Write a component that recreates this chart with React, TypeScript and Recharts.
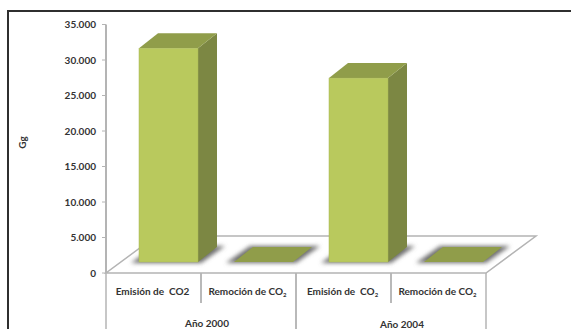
import { Bar, ComposedChart, XAxis, YAxis } from "recharts";

const categories = ["Emisión de  CO2", "Remoción de CO₂", "Emisión de  CO₂", "Remoción de CO₂"];
const years = ["Año 2000", "Año 2000", "Año 2004", "Año 2004"];
const emissions = [30100, 0, 25900, 0];
const yTicks = [0, 5000, 10000, 15000, 20000, 25000, 30000, 35000];

const chartData = categories.map((name, i) => ({ id: i, name, year: years[i], value: emissions[i] }));

const textColor = "#333333";
const axisColor = "#b4b4b4";
const fontFamily = "Lato, sans-serif";

// fake 3D: how far the floor recedes, and where the columns stand on it
const floorDx = 50;
const floorDy = 37;
const boxDx = 19;
const boxDy = 15;
const standX = 15;
const standY = 11;

const plotLeft = 106;
const plotRight = 486;
const plotBottom = 273;

function Box3D(props: any) {
  const { x, y, width, height } = props;
  const left = x + standX;
  const right = left + width;
  const top = y - standY;
  const bottom = y + height - standY;
  const baseShadow = `${left - 8},${bottom + 1} ${right + 3},${bottom + 1} ${right + boxDx + 8},${bottom - boxDy - 1} ${left + boxDx - 3},${bottom - boxDy - 1}`;
  return (
    <g>
      <polygon points={baseShadow} fill="#6f6f6f" filter="url(#boxShadow)" />
      <polygon points={`${right},${top} ${right + boxDx},${top - boxDy} ${right + boxDx},${bottom - boxDy} ${right},${bottom}`} fill="#7c8743" />
      <polygon points={`${left},${top} ${left + boxDx},${top - boxDy} ${right + boxDx},${top - boxDy} ${right},${top}`} fill="#909d4a" />
      {height > 0 && <rect x={left} y={top} width={width} height={height} fill="#b9c95d" stroke="#a9b955" strokeWidth={0.5} />}
    </g>
  );
}

function CategoryTick(props: any) {
  const { x, y, payload } = props;
  const half = payload.offset ?? 47.5;
  const label: string = payload.value;
  // the subscript two is set smaller and lower than the rest of the label
  const hasSub = label.endsWith("₂");
  return (
    <g>
      <line x1={x - half} x2={x - half} y1={y} y2={y + 30} stroke={axisColor} strokeWidth={1.5} />
      <line x1={x + half} x2={x + half} y1={y} y2={y + 30} stroke={axisColor} strokeWidth={1.5} />
      <text x={x - 1} y={y + 22} textAnchor="middle" fill={textColor} fontSize={10} fontWeight={700} fontFamily={fontFamily} style={{ whiteSpace: "pre" }}>
        {hasSub ? label.slice(0, -1) : label}
        {hasSub && <tspan fontSize={6} dy={2}>2</tspan>}
      </text>
    </g>
  );
}

function YearTick(props: any) {
  const { x, y, payload, index } = props;
  const half = payload.offset ?? 95;
  return (
    <g>
      <line x1={x - half} x2={x - half} y1={y} y2={y + 26} stroke={axisColor} strokeWidth={1.5} />
      <line x1={x + half} x2={x + half} y1={y} y2={y + 26} stroke={axisColor} strokeWidth={1.5} />
      <text x={x + (index === 0 ? 6 : 11)} y={y + (index === 0 ? 24 : 25)} textAnchor="middle" fill={textColor} fontSize={10} fontWeight={700} fontFamily={fontFamily}>
        {payload.value}
      </text>
    </g>
  );
}

export default function App() {
  return (
    <div style={{ position: "absolute", left: 0, top: 0, width: 571, height: 329, overflow: "hidden", background: "#fff" }}>
      <div style={{ position: "absolute", left: 7, top: 10, right: 0, bottom: 0, borderLeft: "2px solid #2f2f2f", borderTop: "2px solid #2f2f2f" }} />
      <ComposedChart width={571} height={329} data={chartData} margin={{ top: 24.5, right: 85, bottom: 0, left: 0 }} style={{ position: "absolute", left: 0, top: 0 }}>
        <defs>
          <filter id="boxShadow" x="-30%" y="-50%" width="160%" height="200%">
            <feGaussianBlur stdDeviation="2" />
          </filter>
        </defs>
        <polygon
          points={`${plotLeft},${plotBottom} ${plotRight},${plotBottom} ${plotRight + floorDx},${plotBottom - floorDy} ${plotLeft + floorDx},${plotBottom - floorDy}`}
          fill="#fff"
          stroke={axisColor}
          strokeWidth={1.5}
        />
        <XAxis xAxisId="cat" dataKey="id" height={30} axisLine={false} tickLine={false} tickSize={0} tickMargin={0} interval={0}
          tickFormatter={(i: number) => categories[i]} tick={(p: any) => <CategoryTick {...p} payload={{ ...p.payload, value: categories[p.payload.value] }} />} />
        <XAxis xAxisId="year" dataKey="year" height={26} allowDuplicatedCategory={false} axisLine={false} tickLine={false} tickSize={0} tickMargin={0} interval={0} tick={(p: any) => <YearTick {...p} />} />
        <YAxis
          domain={[0, 35000]}
          ticks={yTicks}
          width={106}
          interval={0}
          tickSize={4}
          tickMargin={6}
          tickLine={{ stroke: axisColor, strokeWidth: 1 }}
          axisLine={{ stroke: axisColor, strokeWidth: 2 }}
          tickFormatter={(v: number) => (v === 0 ? "0" : `${v / 1000}.000`)}
          tick={{ fill: textColor, fontSize: 10, fontWeight: 700, fontFamily }}
          label={{ value: "Gg", angle: -90, position: "insideLeft", offset: 22, fill: textColor, fontSize: 10, fontWeight: 700, fontFamily }}
        />
        <Bar xAxisId="cat" dataKey="value" barSize={59} isAnimationActive={false} shape={Box3D} minPointSize={0} />
      </ComposedChart>
    </div>
  );
}
